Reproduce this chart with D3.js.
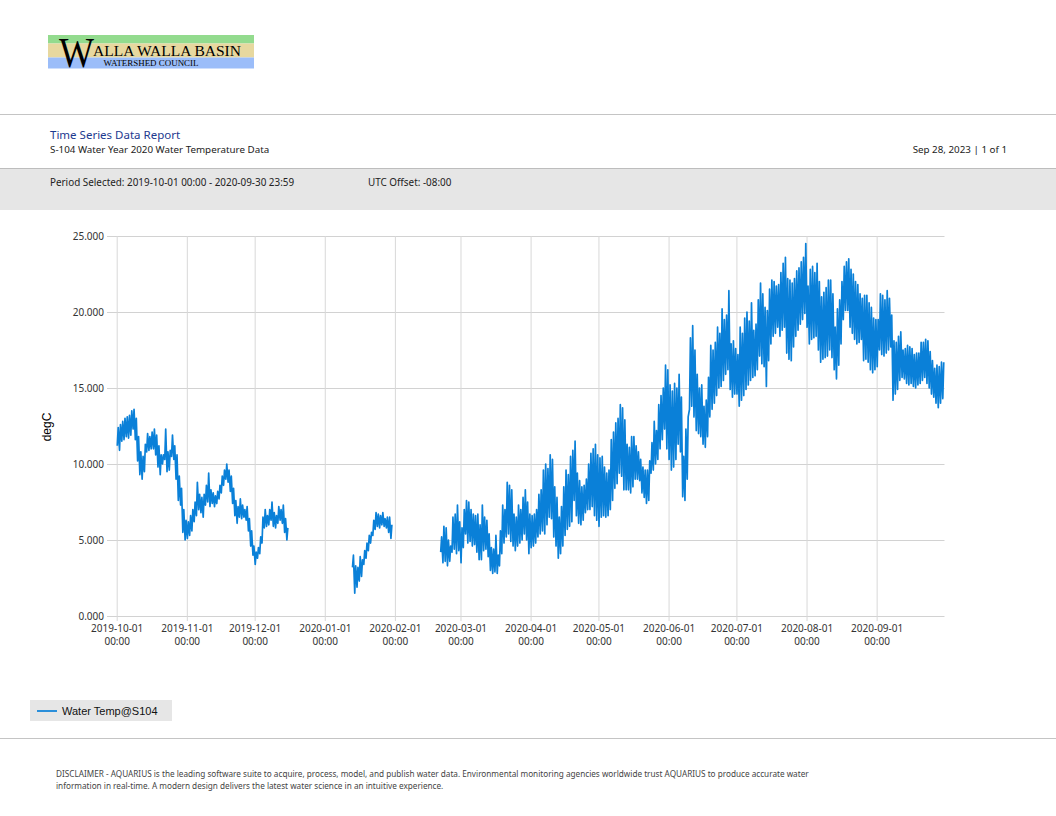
<!DOCTYPE html>
<html><head><meta charset="utf-8">
<script src="https://cdn.jsdelivr.net/npm/d3@7"></script>
<style>
html,body{margin:0;padding:0;background:#fff;}
svg{display:block;}
</style>
</head><body>
<svg id="chart" width="1056" height="816"></svg>
<script>
// ---------- data ----------
const segmentStarts = ["2019-10-01", "2020-01-13", "2020-02-21"];
const yTicks = [0, 5, 10, 15, 20, 25];
const xTickDates = ["2019-10-01","2019-11-01","2019-12-01","2020-01-01","2020-02-01","2020-03-01","2020-04-01","2020-05-01","2020-06-01","2020-07-01","2020-08-01","2020-09-01"];
const seriesName = "Water Temp@S104";

// daily minimum / maximum water temperature (degC), one entry per day from segment start
const seg1Min = [11.2,10.9,11.5,11.6,11.8,11.7,11.9,12.3,11.6,10.2,9.3,9.0,9.5,10.8,10.9,11.0,11.0,10.6,9.8,9.3,10.0,10.3,9.5,9.6,10.5,10.3,9.0,7.6,7.3,5.5,5.0,5.1,5.3,5.6,6.2,6.6,7.0,6.8,6.5,7.3,7.5,7.2,7.4,7.2,7.4,7.7,8.1,8.6,9.0,8.8,8.2,7.4,6.6,6.1,6.5,6.4,6.5,6.3,5.6,4.6,4.0,3.4,3.8,4.1,4.8,5.8,5.9,6.0,6.3,5.9,5.8,6.1,6.3,6.1,5.5,5.0];
const seg1Max = [12.4,12.6,12.8,13.0,13.1,13.2,13.5,13.6,13.0,11.8,10.8,10.5,11.3,12.0,11.8,12.1,12.3,11.9,11.2,10.6,10.6,12.3,10.8,10.9,11.9,11.2,10.6,9.2,8.4,7.0,6.3,6.2,6.6,7.0,7.5,8.8,8.0,7.8,8.0,8.6,9.4,8.3,8.1,7.9,8.2,8.6,9.2,9.6,10.0,9.6,9.2,8.4,7.6,7.2,7.7,7.3,7.0,7.2,6.4,5.6,4.6,4.2,4.5,5.2,6.5,7.0,6.6,7.0,7.5,6.8,6.6,7.2,7.0,7.3,6.4,5.8];
const seg2Min = [3.2,1.5,1.9,2.3,2.6,3.4,3.8,4.3,4.8,5.3,5.7,5.9,5.8,6.0,5.9,5.8,5.5,5.1];
const seg2Max = [4.0,3.3,3.2,3.9,3.7,4.3,4.8,5.3,5.5,6.3,6.8,6.7,6.6,6.8,6.4,6.5,6.5,6.0];
const seg3Min = [4.2,3.5,3.6,3.3,3.6,4.2,4.4,4.1,4.3,3.5,4.5,5.4,4.8,4.9,4.6,4.7,4.2,3.7,3.7,4.3,4.4,3.9,3.0,2.8,2.9,2.8,3.3,4.1,4.8,5.2,5.4,4.9,4.6,4.3,4.6,4.8,5.0,5.4,5.0,4.1,4.5,4.6,4.8,5.2,5.4,5.6,5.4,6.0,6.5,6.4,5.2,4.6,3.8,4.1,4.6,5.3,5.7,5.9,6.2,7.6,6.6,6.1,6.0,6.3,6.8,7.0,7.0,7.2,6.6,6.3,5.9,6.5,6.6,6.5,6.6,7.0,7.6,8.4,8.7,9.4,9.2,8.3,8.3,8.3,8.1,8.5,9.0,9.0,8.9,8.1,7.8,7.4,7.6,9.4,9.6,10.0,10.3,11.0,11.6,12.3,11.0,10.3,9.6,9.8,10.3,11.3,10.8,7.85,7.6,9.0,13.6,13.8,13.1,12.2,12.0,11.8,11.3,11.1,11.8,13.1,13.6,14.0,14.5,15.0,15.1,15.5,15.9,16.2,14.9,14.4,14.6,14.6,13.8,14.2,14.5,14.9,15.2,15.5,15.7,15.8,16.2,17.1,16.6,16.4,15.1,16.8,17.9,18.4,18.6,19.0,18.4,18.8,19.0,17.3,16.9,16.8,17.7,18.4,18.8,19.2,19.5,19.9,19.0,17.9,18.2,18.3,18.4,17.5,16.7,16.9,17.0,17.1,17.5,17.0,16.2,15.6,16.5,17.9,19.5,20.1,20.1,19.0,18.6,18.2,17.9,18.0,18.2,16.8,16.9,16.7,16.2,16.0,16.2,16.4,17.5,17.2,17.1,17.3,17.5,17.7,14.2,14.6,14.9,15.5,15.7,15.6,15.3,15.2,15.3,15.1,15.0,15.2,15.3,15.5,15.7,15.3,15.0,14.6,14.4,14.0,13.7,14.0,14.3];
const seg3Max = [5.2,5.9,5.8,5.0,4.6,6.5,6.7,7.3,6.2,5.8,7.0,7.6,7.5,7.0,6.7,6.6,6.7,6.0,7.3,6.5,6.3,5.4,4.5,4.4,5.3,4.0,5.6,7.3,7.0,8.8,8.6,8.3,6.7,6.5,7.3,7.0,7.8,8.3,7.5,6.7,6.6,6.7,7.0,8.0,8.3,9.6,10.0,9.7,10.6,10.3,8.5,7.8,6.5,7.2,8.5,9.6,9.3,10.5,10.9,11.5,9.4,8.9,8.5,8.6,9.0,10.0,10.7,11.0,11.3,10.6,10.4,10.5,9.8,9.4,9.6,11.6,12.1,12.7,13.0,13.9,13.7,12.9,11.3,11.1,11.8,11.8,11.2,10.8,10.3,9.8,9.6,9.6,10.2,11.4,12.8,12.2,13.9,14.5,15.0,16.5,16.2,15.2,14.8,15.3,15.0,15.9,14.4,10.5,12.3,13.1,18.3,19.1,17.5,15.9,15.0,15.2,13.8,14.2,15.7,17.8,17.5,18.0,19.0,18.6,20.2,19.5,19.8,21.4,17.9,18.1,17.6,17.2,19.0,18.6,19.6,20.0,19.4,20.6,18.8,19.2,20.8,21.9,21.2,20.3,20.1,21.5,22.1,22.0,21.7,21.8,22.6,23.2,23.6,22.2,22.1,21.9,22.2,22.7,22.9,23.3,23.6,24.5,21.7,22.8,23.0,22.6,23.2,22.0,21.0,21.3,21.6,22.1,22.1,21.2,19.0,20.2,20.8,22.0,23.0,23.3,23.5,22.8,22.5,22.0,21.8,21.2,20.9,21.1,21.1,20.6,20.3,19.6,19.5,19.5,21.2,21.1,20.8,21.4,20.9,19.8,18.1,18.0,18.4,18.7,17.5,17.6,17.8,17.7,17.6,17.2,17.3,17.3,18.0,18.0,18.2,18.1,17.4,16.8,16.3,16.5,16.4,16.7,16.7];

// ---------- build points ----------
const parse = d3.timeParse("%Y-%m-%d");
const segs = [[seg1Min, seg1Max], [seg2Min, seg2Max], [seg3Min, seg3Max]];
const points = [];
segs.forEach(([mins, maxs], si) => {
  const start = parse(segmentStarts[si]);
  mins.forEach((mn, i) => {
    const day = d3.timeDay.offset(start, i);
    points.push({t: d3.timeHour.offset(day, 6), v: mn});
    points.push({t: d3.timeHour.offset(day, 16), v: maxs[i]});
  });
  if (si < segs.length - 1) points.push(null);
});

// ---------- layout ----------
const svg = d3.select("#chart");
const W = 1056;
const plotLeft = 116.7, plotRight = 944.5, plotTop = 236, plotBottom = 616;

// logo
const serif = "Liberation Serif, DejaVu Serif, serif";
const logo = svg.append("g");
logo.append("rect").attr("x", 48).attr("y", 35).attr("width", 206).attr("height", 8.5).attr("fill", "#93db8e");
logo.append("rect").attr("x", 48).attr("y", 43.5).attr("width", 206).attr("height", 14).attr("fill", "#e7d89f");
logo.append("rect").attr("x", 48).attr("y", 57.5).attr("width", 206).attr("height", 11).attr("fill", "#9bbdf9");
logo.append("text").attr("x", 59).attr("y", 66.5).attr("font-family", serif)
  .attr("font-size", 43).attr("fill", "#000").attr("textLength", 35).attr("lengthAdjust", "spacingAndGlyphs").text("W");
logo.append("text").attr("x", 93).attr("y", 55.8).attr("font-family", serif)
  .attr("font-size", 15.5).attr("fill", "#000").attr("textLength", 148).attr("lengthAdjust", "spacingAndGlyphs").text("ALLA WALLA BASIN");
logo.append("text").attr("x", 103.5).attr("y", 65.7).attr("font-family", serif)
  .attr("font-size", 8.3).attr("fill", "#000").attr("textLength", 95).attr("lengthAdjust", "spacingAndGlyphs").text("WATERSHED COUNCIL");

// header
svg.append("line").attr("x1", 0).attr("x2", W).attr("y1", 114.5).attr("y2", 114.5).attr("stroke", "#c4c4c4");
const sans = "Noto Sans, Open Sans, sans-serif";
svg.append("text").attr("x", 50).attr("y", 139).attr("font-family", sans).attr("font-size", 11.5)
  .attr("fill", "#1d3a8f").text("Time Series Data Report");
svg.append("text").attr("x", 50).attr("y", 153).attr("font-family", sans).attr("font-size", 9.8)
  .attr("fill", "#222").text("S-104 Water Year 2020 Water Temperature Data");
svg.append("text").attr("x", 1007).attr("y", 153).attr("text-anchor", "end").attr("font-family", sans).attr("font-size", 9.8)
  .attr("fill", "#222").text("Sep 28, 2023 | 1 of 1");

svg.append("rect").attr("x", 0).attr("y", 168).attr("width", W).attr("height", 42).attr("fill", "#e6e6e6");
svg.append("line").attr("x1", 0).attr("x2", W).attr("y1", 168.5).attr("y2", 168.5).attr("stroke", "#bdbdbd");
svg.append("text").attr("x", 50).attr("y", 186).attr("font-family", sans).attr("font-size", 9.9)
  .attr("fill", "#222").text("Period Selected: 2019-10-01 00:00 - 2020-09-30 23:59");
svg.append("text").attr("x", 368).attr("y", 186).attr("font-family", sans).attr("font-size", 9.9)
  .attr("fill", "#222").text("UTC Offset: -08:00");

// scales
const x = d3.scaleTime().domain([parse("2019-10-01"), parse("2020-10-01")]).range([plotLeft, plotRight]);
const y = d3.scaleLinear().domain([0, 25]).range([plotBottom, plotTop]);

// y axis + horizontal grid
const yAxis = svg.append("g").attr("transform", `translate(${plotRight},0)`)
  .call(d3.axisLeft(y).tickValues(yTicks).tickFormat(d3.format(".3f")).tickSize(plotRight - 107).tickPadding(3));
yAxis.select(".domain").remove();
yAxis.selectAll(".tick line").attr("stroke", "#d2d2d2");
yAxis.selectAll(".tick text").attr("font-family", sans).attr("font-size", 10).attr("fill", "#333");

// x axis + vertical grid
const xAxis = svg.append("g").attr("transform", `translate(0,${plotTop})`)
  .call(d3.axisBottom(x).tickValues(xTickDates.map(parse)).tickSize(plotBottom - plotTop + 5).tickFormat(""));
xAxis.select(".domain").remove();
xAxis.selectAll(".tick line").attr("stroke", "#d8d8d8");
xAxis.selectAll(".tick").each(function(d) {
  const g = d3.select(this);
  g.select("text").remove();
  const t = g.append("text").attr("text-anchor", "middle").attr("font-family", sans).attr("font-size", 10).attr("fill", "#333");
  t.append("tspan").attr("x", 0).attr("y", plotBottom - plotTop + 16).text(d3.timeFormat("%Y-%m-%d")(d));
  t.append("tspan").attr("x", 0).attr("y", plotBottom - plotTop + 29).text(d3.timeFormat("%H:%M")(d));
});

// y label
svg.append("text").attr("transform", "translate(51,427) rotate(-90)").attr("text-anchor", "middle")
  .attr("font-family", "Liberation Sans, Arial, sans-serif").attr("font-size", 12).attr("fill", "#000").text("degC");

// line
const line = d3.line().defined(d => d !== null).x(d => x(d.t)).y(d => y(d.v));
svg.append("path").datum(points).attr("d", line).attr("fill", "none")
  .attr("stroke", "#0a80d8").attr("stroke-width", 1.7).attr("stroke-linejoin", "round");

// legend
svg.append("rect").attr("x", 30).attr("y", 700).attr("width", 142).attr("height", 21).attr("fill", "#e6e6e6");
svg.append("line").attr("x1", 37).attr("x2", 57).attr("y1", 711).attr("y2", 711).attr("stroke", "#0a80d8").attr("stroke-width", 1.7);
svg.append("text").attr("x", 62).attr("y", 715).attr("font-family", "Liberation Sans, Arial, sans-serif").attr("font-size", 11)
  .attr("fill", "#111").text(seriesName);

// footer
svg.append("line").attr("x1", 0).attr("x2", W).attr("y1", 738.5).attr("y2", 738.5).attr("stroke", "#c4c4c4");
svg.append("text").attr("x", 56).attr("y", 777).attr("font-family", sans).attr("font-size", 8.2).attr("fill", "#444")
  .text("DISCLAIMER - AQUARIUS is the leading software suite to acquire, process, model, and publish water data. Environmental monitoring agencies worldwide trust AQUARIUS to produce accurate water");
svg.append("text").attr("x", 56).attr("y", 789).attr("font-family", sans).attr("font-size", 8.2).attr("fill", "#444")
  .text("information in real-time. A modern design delivers the latest water science in an intuitive experience.");
</script>
</body></html>
